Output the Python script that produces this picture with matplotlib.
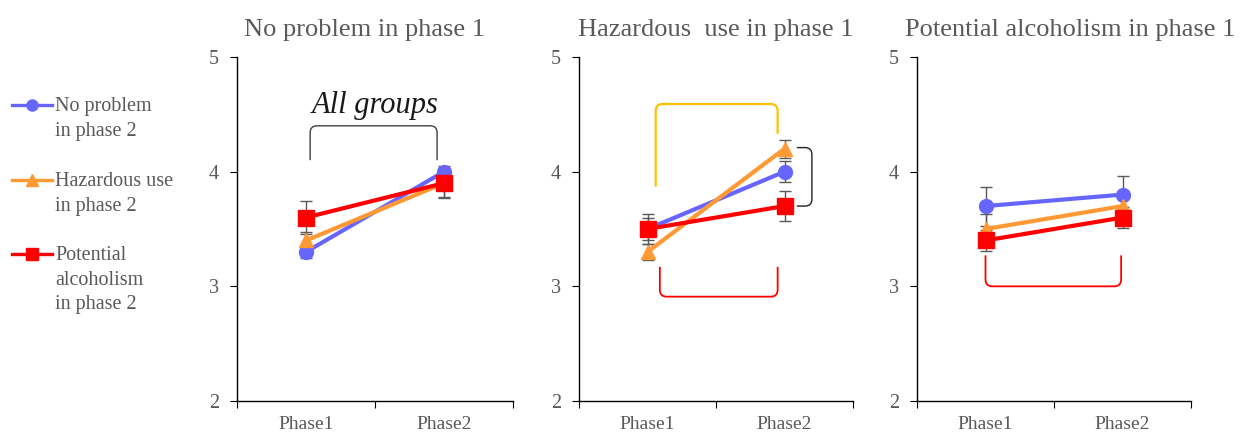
import matplotlib
matplotlib.use("Agg")
import matplotlib.pyplot as plt
from matplotlib.path import Path
from matplotlib.patches import PathPatch
from matplotlib.lines import Line2D

plt.rcParams.update({
    "font.family": ["Liberation Serif", "DejaVu Serif"],
    "axes.linewidth": 1.0,
})

GRAY = "#595959"

PHASES = ["Phase1", "Phase2"]
PANEL_TITLES = ["No problem in phase 1", "Hazardous  use in phase 1",
                "Potential alcoholism in phase 1"]
SERIES_LABELS = ["No problem\nin phase 2", "Hazardous use\nin phase 2",
                 "Potential\nalcoholism\nin phase 2"]
SERIES_COLORS = ["#6666FF", "#FF9933", "#FF0000"]
SERIES_MARKERS = ["o", "^", "s"]
SERIES_MS = [10, 10, 11]

# mean score per panel (phase-1 group), [Phase1, Phase2]
NO_PROBLEM = [[3.3, 4.0], [3.5, 4.0], [3.7, 3.8]]
HAZARDOUS = [[3.4, 3.9], [3.3, 4.2], [3.5, 3.7]]
POTENTIAL = [[3.6, 3.9], [3.5, 3.7], [3.4, 3.6]]

NO_PROBLEM_ERR = [[0.05, 0.05], [0.10, 0.09], [0.17, 0.16]]
HAZARDOUS_ERR = [[0.07, 0.13], [0.07, 0.08], [0.13, 0.10]]
POTENTIAL_ERR = [[0.14, 0.12], [0.13, 0.13], [0.09, 0.09]]

SERIES = [NO_PROBLEM, HAZARDOUS, POTENTIAL]
ERRORS = [NO_PROBLEM_ERR, HAZARDOUS_ERR, POTENTIAL_ERR]

# significance brackets: (panel, polyline points in data coords, colour, lw)
BRACKETS = [
    (0, [(0.03, 4.10), (0.03, 4.40), (0.95, 4.40), (0.95, 4.10)], "#404040", 1.0),
    (1, [(0.06, 3.87), (0.06, 4.59), (0.95, 4.59), (0.95, 4.33)], "#FFC000", 1.6),
    (1, [(0.09, 3.17), (0.09, 2.91), (0.95, 2.91), (0.95, 3.17)], "#FF0000", 1.3),
    (1, [(1.09, 4.21), (1.20, 4.21), (1.20, 3.70), (1.09, 3.70)], "#202020", 1.0),
    (2, [(0.00, 3.27), (0.00, 3.00), (0.99, 3.00), (0.99, 3.27)], "#FF0000", 1.3),
]


def bracket(ax, pts, color, lw, rx=0.05, ry=0.06):
    # polyline with small rounded corners
    verts = [pts[0]]
    codes = [Path.MOVETO]
    for i in range(1, len(pts) - 1):
        p0, p1, p2 = pts[i - 1], pts[i], pts[i + 1]

        def off(a, b):
            dx, dy = b[0] - a[0], b[1] - a[1]
            if abs(dx) > abs(dy):
                return (a[0] + (rx if dx > 0 else -rx), a[1])
            return (a[0], a[1] + (ry if dy > 0 else -ry))
        verts += [off(p1, p0), p1, off(p1, p2)]
        codes += [Path.LINETO, Path.CURVE3, Path.CURVE3]
    verts.append(pts[-1])
    codes.append(Path.LINETO)
    ax.add_patch(PathPatch(Path(verts, codes), fill=False, edgecolor=color,
                           lw=lw, clip_on=False, zorder=1))


W, H = 1247, 433
fig = plt.figure(figsize=(W / 100, H / 100), dpi=100)

lefts = [237, 579, 917]
widths = [276, 274, 274]
title_x = [365, 716, 1070]

for p in range(3):
    ax = fig.add_axes([lefts[p] / W, 1 - 401 / H, widths[p] / W, 344 / H])
    x = list(range(len(PHASES)))
    for s in range(3):
        ax.errorbar(x, SERIES[s][p], yerr=ERRORS[s][p], fmt="none",
                    ecolor=GRAY, elinewidth=1.0, capsize=4, capthick=1.0,
                    zorder=2)
    for s in range(3):
        ax.plot(x, SERIES[s][p], color=SERIES_COLORS[s], lw=3,
                marker=SERIES_MARKERS[s], ms=SERIES_MS[s], zorder=3 + s)
    ax.set_xlim(-0.5, 1.5)
    ax.set_ylim(2, 5)
    ax.set_yticks([2, 3, 4, 5])
    ax.set_xticks([-0.5, 0.5, 1.5])
    ax.set_xticklabels([])
    ax.set_xticks(x, minor=True)
    ax.set_xticklabels(PHASES, minor=True)
    ax.tick_params(axis="x", which="major", length=5, direction="out")
    ax.tick_params(axis="x", which="minor", length=0, pad=11,
                   labelsize=14, labelcolor=GRAY)
    ax.tick_params(axis="y", length=5, direction="out", pad=8,
                   labelsize=14.5, labelcolor=GRAY)
    for side in ("top", "right"):
        ax.spines[side].set_visible(False)
    for pan, pts, col, lw in BRACKETS:
        if pan == p:
            bracket(ax, pts, col, lw)
    if p == 0:
        ax.text(0.5, 4.58, "All groups", ha="center", va="center",
                fontsize=22, style="italic", color="#1a1a1a")
    fig.text(title_x[p] / W, 1 - 30 / H, PANEL_TITLES[p], ha="center",
             va="center", fontsize=19, color=GRAY)

# legend drawn at the left margin
leg_y = [105, 180, 254]
for s in range(3):
    yy = 1 - leg_y[s] / H
    fig.add_artist(Line2D([12 / W, 52 / W], [yy, yy], color=SERIES_COLORS[s],
                          lw=2.4, marker=None, transform=fig.transFigure))
    fig.add_artist(Line2D([32 / W], [yy], color=SERIES_COLORS[s],
                          marker=SERIES_MARKERS[s], ms=8 if s < 2 else 9,
                          ls="none", transform=fig.transFigure))
    fig.text(55 / W, 1 - (leg_y[s] - 8) / H, SERIES_LABELS[s], ha="left",
             va="top", fontsize=14.5, color=GRAY, linespacing=1.4)

fig.savefig("out.png", dpi=100)
